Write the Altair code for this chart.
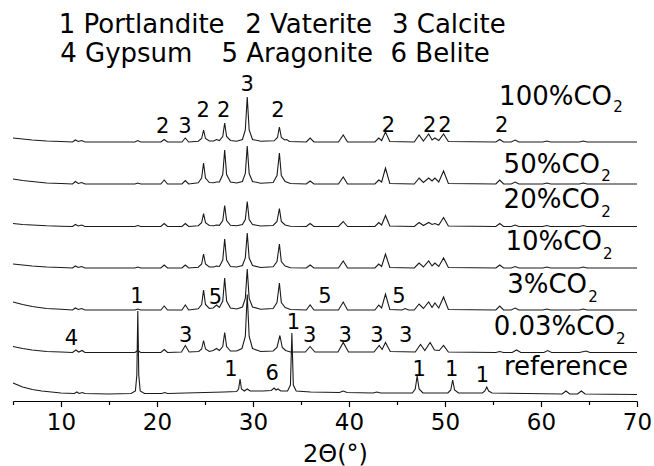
import altair as alt
import pandas as pd

FONT = "DejaVu Sans"

# ---------------- data (2θ in degrees, intensity in a.u. relative to each trace's baseline) ----------------
TRACE_NAMES = ["reference", "0.03%CO2", "3%CO2", "10%CO2", "20%CO2", "50%CO2", "100%CO2"]
TRACE_OFFSETS = [6, 48.5, 91, 133, 174.5, 217, 259]

REF = [(5, 12), (5.5, 10), (6, 8), (7, 5.5), (8, 4), (9, 3), (10, 2), (11.4, 1.5), (11.65, 3), (11.9, 1.5),
       (12.2, 2.5), (12.5, 1.5), (15, 1), (17.3, 1.5), (17.75, 4), (17.9, 20), (18.0, 84), (18.1, 20),
       (18.25, 4), (18.7, 1.5), (20.5, 1.5), (20.8, 2.5), (21.1, 1.5), (23.0, 2), (25, 2.5), (27, 3),
       (28.3, 3.5), (28.5, 6), (28.65, 16), (28.8, 6), (29.1, 4), (29.4, 6), (29.7, 4), (31, 4), (31.9, 4.5),
       (32.2, 7), (32.4, 5), (32.6, 6), (32.9, 4), (33.6, 4), (33.9, 10), (34.05, 62), (34.2, 10), (34.5, 4),
       (36, 3), (39.0, 2.5), (39.4, 4), (39.8, 2.5), (42.5, 2), (42.9, 3), (43.3, 2), (46.6, 2), (46.9, 6),
       (47.1, 19), (47.3, 6), (47.7, 2), (50.3, 2), (50.6, 5), (50.8, 15), (51.0, 5), (51.4, 2), (53.9, 2),
       (54.15, 4), (54.35, 8), (54.55, 4), (54.9, 2), (62.2, 1), (62.6, 4), (63.0, 1), (63.8, 1), (64.2, 4),
       (64.6, 1), (70, 0.5)]

CO2_003 = [(5, 6), (6, 4), (7, 2.5), (8.5, 1), (10, 0.5), (11.2, 0), (11.55, 2.5), (11.85, 0.5), (12.2, 2),
           (12.5, 0), (17.7, 0), (18.0, 2), (18.3, 0), (20.4, 0), (20.75, 3), (21.1, 0), (22.55, 0.5),
           (22.95, 7), (23.35, 0.5), (24.35, 1), (24.65, 3.5), (24.85, 12), (25.05, 3.5), (25.45, 1),
           (25.85, 2), (26.2, 4), (26.5, 2), (26.85, 6), (27.05, 20), (27.25, 6), (27.65, 1.5), (28.3, 1.5),
           (28.85, 4), (29.2, 16), (29.4, 58), (29.6, 16), (29.95, 4), (30.8, 1), (32.1, 1.5), (32.5, 5),
           (32.8, 17), (33.05, 5), (33.4, 2), (33.9, 0.5), (35.45, 0.5), (35.95, 6), (36.45, 0.5),
           (38.85, 0.5), (39.4, 10), (39.95, 0.5), (42.6, 0.5), (43.15, 7), (43.45, 3), (43.8, 10),
           (44.3, 1), (46.9, 0.5), (47.45, 8), (47.9, 2), (48.45, 10), (48.9, 2.5), (49.4, 2), (49.85, 7),
           (50.35, 0.5), (55.3, 0), (55.7, 1), (56.1, 0), (57.0, 0), (57.45, 2.5), (57.9, 0), (60.3, 0),
           (60.7, 2), (61.1, 0), (64.0, 0), (64.7, 1.5), (65.1, 0), (70, 0)]

CO2_3 = [(5, 8), (6, 5.5), (7, 3.5), (8.5, 1.5), (10, 0.7), (11.2, 0), (11.5, 2), (11.8, 0.5), (12.15, 1.5),
         (12.5, 0), (17.7, 0), (18.0, 1), (18.3, 0), (20.4, 0), (20.75, 4), (21.1, 0), (22.6, 0), (22.95, 5),
         (23.3, 0), (24.3, 1.2), (24.65, 5.5), (24.85, 20), (25.05, 5.5), (25.45, 1.5), (25.85, 2), (26.2, 5),
         (26.5, 2.5), (26.85, 9), (27.05, 32), (27.25, 9), (27.65, 2), (28.3, 1), (28.9, 3), (29.2, 11.5),
         (29.4, 41), (29.6, 11.5), (29.95, 3), (30.8, 0.8), (32.1, 1.5), (32.5, 7.5), (32.75, 27),
         (32.95, 7.5), (33.35, 2.5), (33.9, 0.5), (35.55, 0), (35.95, 5), (36.35, 0), (38.9, 0), (39.4, 8),
         (39.85, 0), (42.7, 0), (43.1, 5), (43.4, 2), (43.8, 16), (44.25, 0.5), (45.5, 0), (45.85, 1.5),
         (46.2, 0), (46.8, 0), (47.3, 6), (47.75, 1.5), (48.3, 8), (48.65, 2.5), (48.95, 7), (49.35, 2),
         (49.85, 13), (50.35, 0.5), (55.3, 0), (55.7, 4), (56.1, 0), (56.9, 0), (57.3, 2), (57.7, 0),
         (60.2, 0), (60.6, 1), (61.0, 0), (64.0, 0), (64.4, 1), (64.8, 0), (70, 0)]

CO2_10 = [(5, 4), (6, 3), (7, 2), (8.5, 1), (10, 0.5), (11.2, 0), (11.5, 2), (11.8, 0.5), (12.15, 1.5),
          (12.5, 0), (17.7, 0), (18.0, 1), (18.3, 0), (20.4, 0), (20.75, 3), (21.1, 0), (22.6, 0), (22.95, 3),
          (23.3, 0), (24.3, 0.8), (24.65, 4), (24.85, 14), (25.05, 4), (25.45, 1), (25.9, 1), (26.2, 2),
          (26.5, 1.5), (26.85, 8), (27.05, 29), (27.25, 8), (27.65, 1.5), (28.3, 1), (28.9, 2.5), (29.2, 10),
          (29.4, 35), (29.6, 10), (29.95, 2.5), (30.8, 0.5), (32.1, 1.2), (32.5, 6.5), (32.75, 24),
          (32.95, 6.5), (33.35, 2), (33.9, 0.3), (35.55, 0), (35.95, 3), (36.35, 0), (38.9, 0), (39.4, 7),
          (39.85, 0), (42.7, 0), (43.1, 4), (43.4, 1.5), (43.8, 14), (44.25, 0.5), (46.8, 0), (47.3, 5),
          (47.75, 1), (48.3, 7), (48.65, 2), (48.95, 5), (49.35, 1.5), (49.85, 10), (50.35, 0.5), (55.3, 0),
          (55.7, 3), (56.1, 0), (56.9, 0), (57.3, 1.5), (57.7, 0), (60.2, 0), (60.6, 1), (61.0, 0), (64.0, 0),
          (64.4, 1), (64.8, 0), (70, 0)]

CO2_20 = [(5, 3), (6, 2), (7, 1.5), (8.5, 0.7), (10, 0.3), (11.2, 0), (11.5, 2), (11.8, 0.5), (12.15, 1.5),
          (12.5, 0), (17.7, 0), (18.0, 1), (18.3, 0), (20.4, 0), (20.75, 3), (21.1, 0), (22.6, 0), (22.95, 3),
          (23.3, 0), (24.3, 0.8), (24.65, 3.8), (24.85, 13), (25.05, 3.8), (25.45, 1), (25.9, 0.8), (26.2, 1.5),
          (26.5, 1.2), (26.85, 6), (27.05, 21), (27.25, 6), (27.65, 1.2), (28.3, 0.8), (28.9, 2), (29.2, 7),
          (29.4, 25), (29.6, 7), (29.95, 2), (30.8, 0.5), (32.1, 1), (32.5, 5), (32.75, 18), (32.95, 5),
          (33.35, 1.5), (33.9, 0.3), (35.55, 0), (35.95, 3), (36.35, 0), (38.9, 0), (39.4, 5), (39.85, 0),
          (42.7, 0), (43.1, 4), (43.4, 1.5), (43.8, 11), (44.25, 0.5), (46.8, 0), (47.3, 4), (47.75, 1),
          (48.3, 4), (48.65, 2), (48.95, 3), (49.35, 1.5), (49.85, 9), (50.35, 0.5), (55.3, 0), (55.7, 3),
          (56.1, 0), (56.9, 0), (57.3, 1.5), (57.7, 0), (60.2, 0), (60.6, 1), (61.0, 0), (64.0, 0), (64.4, 1),
          (64.8, 0), (70, 0)]

CO2_50 = [(5, 5), (6, 3.5), (7, 2.5), (8.5, 1), (10, 0.5), (11.2, 0), (11.5, 2.5), (11.8, 0.5), (12.15, 1.5),
          (12.5, 0), (17.7, 0), (18.0, 1), (18.3, 0), (20.4, 0), (20.75, 4), (21.1, 0), (22.6, 0), (22.95, 3.5),
          (23.3, 0), (24.3, 1.2), (24.65, 6), (24.85, 21), (25.05, 6), (25.45, 1.5), (25.9, 1.2), (26.2, 2),
          (26.5, 2), (26.85, 9.5), (27.05, 34), (27.25, 9.5), (27.65, 2), (28.3, 1), (28.9, 2.5), (29.2, 10.5),
          (29.4, 38), (29.6, 10.5), (29.95, 2.5), (30.8, 0.8), (32.1, 1.5), (32.5, 8.5), (32.75, 31),
          (32.95, 8.5), (33.35, 2.5), (33.9, 0.5), (35.55, 0), (35.95, 3), (36.35, 0), (38.9, 0), (39.4, 7),
          (39.85, 0), (42.7, 0), (43.1, 4), (43.4, 2), (43.8, 16), (44.25, 0.5), (46.8, 0), (47.3, 6),
          (47.75, 1.5), (48.3, 6), (48.65, 3), (48.95, 6), (49.35, 2), (49.85, 13), (50.35, 0.5), (55.3, 0),
          (55.7, 4), (56.1, 0), (56.9, 0), (57.3, 2), (57.7, 0), (60.2, 0), (60.6, 1), (61.0, 0), (64.0, 0),
          (64.4, 1), (64.8, 0), (70, 0)]

CO2_100 = [(5, 4), (6, 3), (7, 2), (8.5, 1), (10, 0.5), (11.2, 0), (11.5, 2), (11.8, 0.5), (12.15, 1.5),
           (12.5, 0), (17.7, 0), (18.0, 1.5), (18.3, 0), (20.4, 0), (20.75, 2.5), (21.1, 0), (22.6, 0),
           (22.95, 4), (23.3, 0), (24.3, 0.8), (24.65, 3.5), (24.85, 12), (25.05, 3.5), (25.45, 1), (25.9, 1),
           (26.2, 2.5), (26.5, 1.5), (26.85, 5.5), (27.05, 19), (27.25, 5.5), (27.65, 1.5), (28.3, 0.8),
           (28.9, 2.5), (29.2, 12), (29.4, 45), (29.6, 12), (29.95, 2.5), (30.8, 0.8), (32.2, 1.2),
           (32.55, 4.5), (32.75, 15), (32.95, 4.5), (33.3, 2), (33.5, 2.5), (33.8, 0.5), (35.55, 0),
           (35.95, 4), (36.35, 0), (38.9, 0), (39.4, 7), (39.85, 0), (42.7, 0), (43.1, 4), (43.4, 1.5),
           (43.8, 10), (44.25, 0.5), (46.8, 0), (47.3, 7), (47.75, 1), (48.3, 8), (48.65, 2), (48.95, 4),
           (49.35, 1.5), (49.85, 8), (50.35, 0.5), (55.3, 0), (55.7, 2.5), (56.1, 0), (56.9, 0), (57.3, 2),
           (57.7, 0), (60.2, 0), (60.6, 1), (61.0, 0), (64.0, 0), (64.4, 1), (64.8, 0), (70, 0)]

TRACE_POINTS = [REF, CO2_003, CO2_3, CO2_10, CO2_20, CO2_50, CO2_100]

# legend text (phase key)
KEY_TEXT = ["1 Portlandite", "2 Vaterite", "3 Calcite", "4 Gypsum", "5 Aragonite", "6 Belite"]
KEY_X = [18.4, 35.8, 50.4, 16.8, 34.6, 49.5]
KEY_Y = [368, 368, 368, 339, 339, 339]

# trace labels (right end of "CO" + subscript)
LABEL_MAIN = ["100%CO", "50%CO", "20%CO", "10%CO", "3%CO", "0.03%CO"]
LABEL_X = [67.4, 66.15, 66.15, 66.35, 64.8, 67.7]
LABEL_Y = [296, 228, 193, 151, 108, 66]
SUB_Y = [289, 220, 184, 142, 99, 57]
REF_LABEL = ["reference"]
REF_LABEL_X = [62.6]
REF_LABEL_Y = [26]

# phase peak markers
PEAK_TEXT = ["2", "3", "2", "2", "3", "2", "2", "2", "2", "2",
             "5", "5", "5",
             "4", "3", "3", "3", "3", "3",
             "1", "1", "6", "1", "1", "1", "1"]
PEAK_X = [20.6, 22.9, 24.8, 26.95, 29.4, 32.6, 44.1, 48.4, 50.0, 55.9,
          26.1, 37.5, 45.2,
          11.1, 23.0, 35.9, 39.6, 42.9, 45.9,
          17.9, 27.7, 32.0, 34.2, 47.3, 50.7, 53.9]
PEAK_Y = [268, 268, 284, 284, 310, 284, 269, 269, 269, 269,
          97, 98, 98,
          56, 59, 59, 59, 59, 59,
          98, 25, 21, 72, 25, 25, 19]

TICK_VALUES = list(range(5, 71, 5))

# ---------------- tables ----------------
rows = []
for name, off, pts in zip(TRACE_NAMES, TRACE_OFFSETS, TRACE_POINTS):
    for i, (tx, ty) in enumerate(pts):
        rows.append({"trace": name, "i": i, "x": tx, "y": ty + off})
lines_df = pd.DataFrame(rows)

key_df = pd.DataFrame({"x": KEY_X, "y": KEY_Y, "t": KEY_TEXT})
lab_df = pd.DataFrame({"x": LABEL_X, "y": LABEL_Y, "t": LABEL_MAIN})
sub_df = pd.DataFrame({"x": [v + 0.12 for v in LABEL_X], "y": SUB_Y, "t": ["2"] * len(LABEL_X)})
ref_df = pd.DataFrame({"x": REF_LABEL_X, "y": REF_LABEL_Y, "t": REF_LABEL})
peak_df = pd.DataFrame({"x": PEAK_X, "y": PEAK_Y, "t": PEAK_TEXT})


def xenc():
    return alt.X(
        "x:Q",
        scale=alt.Scale(domain=[5, 70], nice=False, zero=False),
        axis=alt.Axis(
            values=TICK_VALUES,
            title="2Θ(°)",
            grid=False,
            labelExpr="datum.value % 10 === 0 ? datum.label : ''",
            labelOverlap=False,
            labelFlush=False,
            tickSize={"condition": {"test": "datum.value % 10 === 0", "value": 5.5}, "value": 3.5},
            labelPadding=5,
            titleX=322,
            titleY=60,
            titleBaseline="alphabetic",
            titleAlign="center",
        ),
    )


def yenc():
    return alt.Y("y:Q", scale=alt.Scale(domain=[0, 401], nice=False, zero=False), axis=None)


lines = alt.Chart(lines_df).mark_line(color="#1a1a1a", strokeWidth=1.1).encode(
    x=xenc(), y=yenc(), detail="trace:N", order="i:Q"
)

key = alt.Chart(key_df).mark_text(font=FONT, fontSize=26, align="center", baseline="alphabetic",
                                  color="#000").encode(x=xenc(), y=yenc(), text="t:N")
labs = alt.Chart(lab_df).mark_text(font=FONT, fontSize=26, align="right", baseline="alphabetic",
                                   color="#000").encode(x=xenc(), y=yenc(), text="t:N")
subs = alt.Chart(sub_df).mark_text(font=FONT, fontSize=15, align="left", baseline="alphabetic",
                                   color="#000").encode(x=xenc(), y=yenc(), text="t:N")
refl = alt.Chart(ref_df).mark_text(font=FONT, fontSize=26, align="center", baseline="alphabetic",
                                   color="#000").encode(x=xenc(), y=yenc(), text="t:N")
peaks = alt.Chart(peak_df).mark_text(font=FONT, fontSize=21, align="center", baseline="alphabetic",
                                     color="#000").encode(x=xenc(), y=yenc(), text="t:N")

chart = alt.layer(lines, key, labs, subs, refl, peaks).properties(
    width=624,
    height=401,
    padding={"left": 13, "top": 0, "right": 17, "bottom": 65},
    autosize=alt.AutoSizeParams(type="none"),
    background="white",
).configure_view(stroke=None).configure_axis(
    domainColor="#000",
    tickColor="#000",
    domainWidth=1.2,
    tickWidth=1.2,
    labelColor="#000",
    labelFont=FONT,
    labelFontSize=23,
    titleFont=FONT,
    titleFontSize=24,
    titleFontWeight="normal",
    titleColor="#000",
)

chart.save("out.html", embed_options={"renderer": "svg", "actions": False})
